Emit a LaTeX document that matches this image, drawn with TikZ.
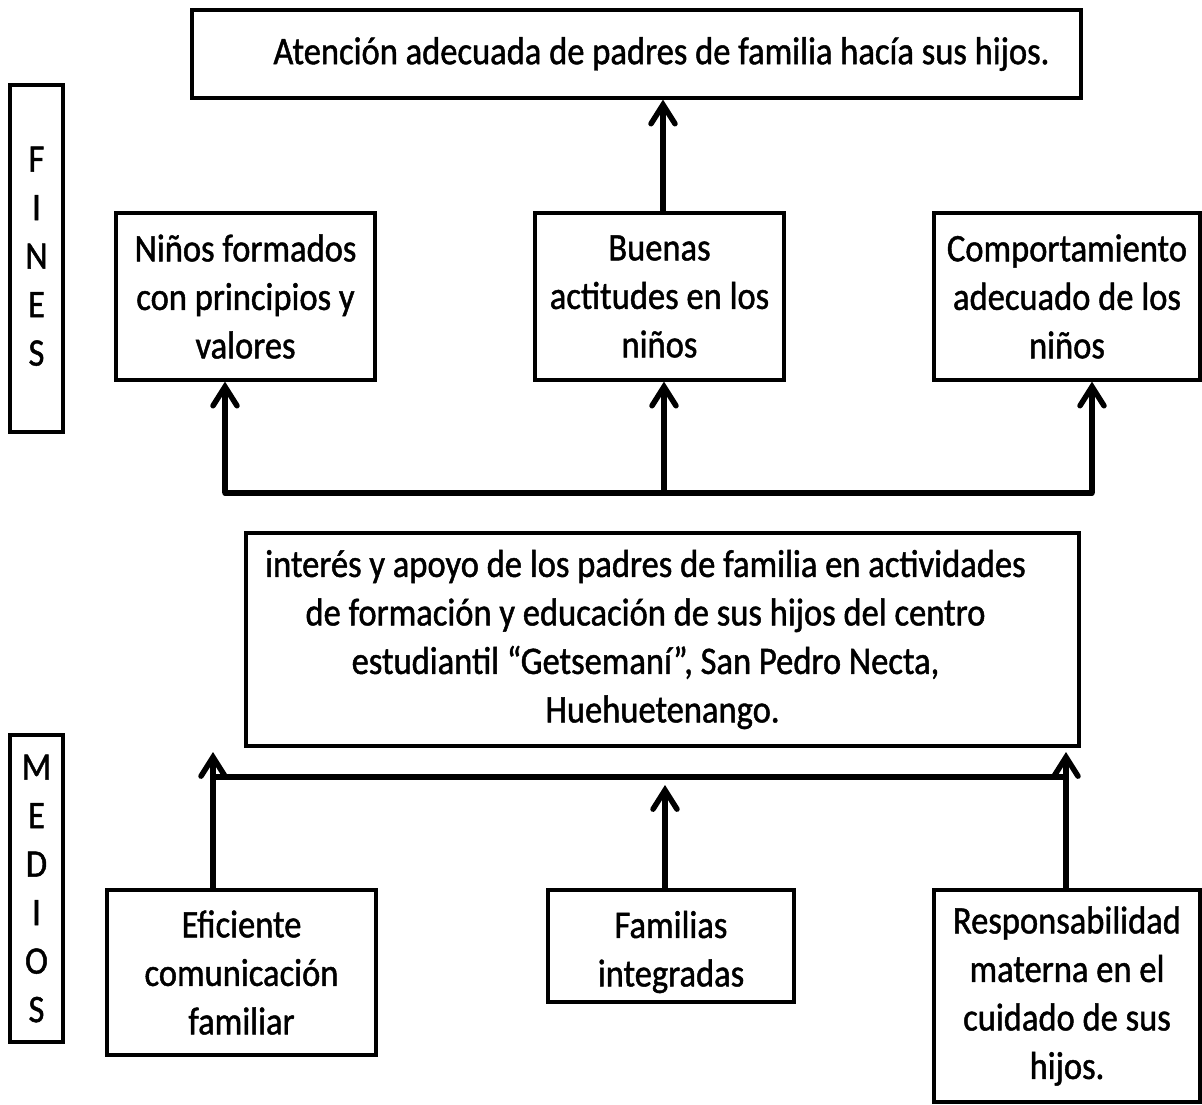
\documentclass[tikz,border=0pt]{standalone}
\usepackage{fontspec}
\setmainfont{Carlito}[FakeStretch=0.885, FakeBold=1.2]
\usetikzlibrary{arrows.meta}
\tikzset{
  box/.style={draw, line width=3.2pt, rectangle, inner sep=0pt, align=center, font=\fontsize{39}{48.5}\selectfont},
  txt/.style={inner sep=0pt, align=center, font=\fontsize{39}{48.5}\selectfont},
  conn/.style={line width=5.5pt},
  arr/.style={line width=5.5pt, -{Straight Barb[length=19pt, width=24pt, line cap=round]}},
}
\newcommand{\lsh}{\hspace*{-34pt}}
\begin{document}
\begin{tikzpicture}[x=1pt, y=-1pt]
\useasboundingbox (0,0) rectangle (1202,1104);
% side labels
\node[box, minimum width=53pt, minimum height=347pt] (fines) at (36.5,258.5) {\rule{0pt}{10pt}\\[-38pt]F\\I\\N\\E\\S};
\node[box, minimum width=53pt, minimum height=307pt] (medios) at (36.5,888.5) {M\\E\\D\\I\\O\\S};
% top
\node[box, minimum width=889pt, minimum height=88pt] (top) at (636.5,54) {\hspace*{50pt}Atención adecuada de padres de familia hacía sus hijos.};
% fines row
\node[box, minimum width=259pt, minimum height=167pt] (n1) at (245.5,296.5) {Niños formados\\con principios y\\valores};
\node[box, minimum width=249pt, minimum height=167pt] (n2) at (659.5,296.5) {Buenas\\actitudes en los\\niños};
\node[box, minimum width=266pt, minimum height=167pt] (n3) at (1067,296.5) {Comportamiento\\adecuado de los\\niños};
% center
\node[box, minimum width=833pt, minimum height=213pt] (center) at (662.5,639.5) {\lsh interés y apoyo de los padres de familia en actividades\\\lsh de formación y educación de sus hijos del centro\\\lsh estudiantil “Getsemaní”, San Pedro Necta,\\Huehuetenango.};
% medios row
\node[box, minimum width=269pt, minimum height=165pt] (b1) at (241.5,972.5) {Eficiente\\comunicación\\familiar};
\node[box, minimum width=246pt, minimum height=112pt] (b2) at (671,946) {};
\node[txt] (b2t) at (671,952) {Familias\\integradas};
\node[box, minimum width=266pt, minimum height=212pt] (b3) at (1067,996) {Responsabilidad\\materna en el\\cuidado de sus\\hijos.};
% upper connectors
\coordinate (barL) at (225,493);
\coordinate (barM) at (664,493);
\coordinate (barR) at (1092,493);
\draw[arr] (n2.north -| 663,0) -- (top.south -| 663,0);
\draw[conn, line cap=round] (barL) -- (barR);
\draw[arr] (barL) -- (n1.south -| barL);
\draw[arr] (barM) -- (n2.south -| barM);
\draw[arr] (barR) -- (n3.south -| barR);
% lower connectors
\coordinate (tipL) at (213,752);
\coordinate (tipR) at (1066,752);
\coordinate (lbarL) at (213,777);
\coordinate (lbarR) at (1066,777);
\coordinate (tipM) at (665,785);
\draw[conn] (lbarL) -- (lbarR);
\draw[arr] (b1.north -| tipL) -- (tipL);
\draw[arr] (b3.north -| tipR) -- (tipR);
\draw[arr] (b2.north -| tipM) -- (tipM);
\end{tikzpicture}
\end{document}
